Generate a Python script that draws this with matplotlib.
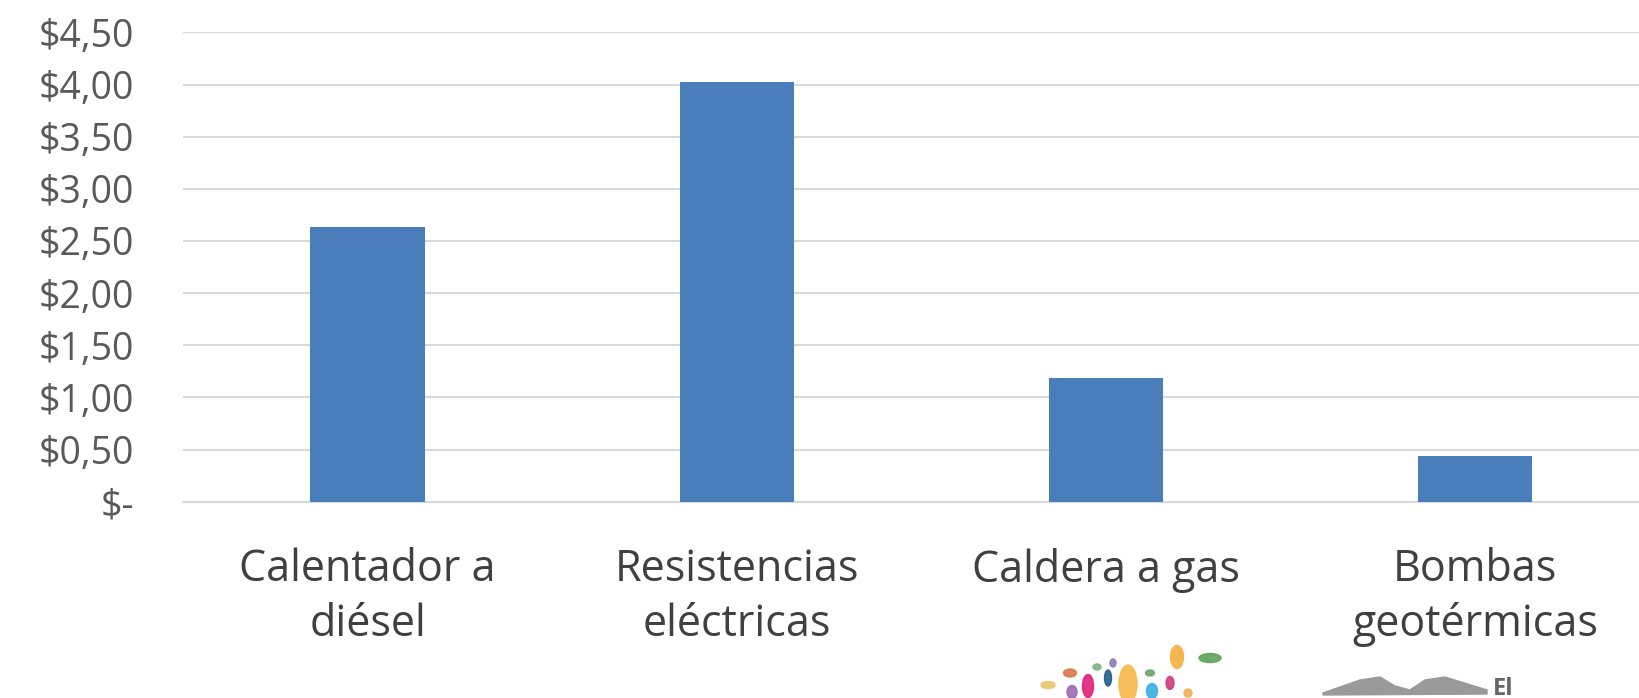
import matplotlib.pyplot as plt
from matplotlib.patches import Ellipse, Polygon
import numpy as np

# data
categories = ["Calentador a\ndiésel", "Resistencias\neléctricas", "Caldera a gas", "Bombas\ngeotérmicas"]
values = [2.63, 4.02, 1.19, 0.44]
yticks = [0, 0.5, 1.0, 1.5, 2.0, 2.5, 3.0, 3.5, 4.0, 4.5]
ytick_labels = ["$-", "$0,50", "$1,00", "$1,50", "$2,00", "$2,50", "$3,00", "$3,50", "$4,00", "$4,50"]

W, H = 1639, 698
plt.rcParams['font.family'] = ['Open Sans', 'DejaVu Sans']

fig = plt.figure(figsize=(W / 100, H / 100), dpi=100)
ax = fig.add_axes([0.1117, 0.2812, 0.9008, 0.6724])

x = np.arange(len(categories))
ax.bar(x, values, width=0.31, color='#4A7EBB', zorder=3)

ax.set_xlim(-0.5, len(categories) - 0.5)
ax.set_ylim(0, 4.5)
ax.set_yticks(yticks)
ax.set_yticklabels(ytick_labels, fontsize=27, color='#595959')
ax.set_xticks(x)
ax.set_xticklabels(categories, fontsize=31, color='#404040', linespacing=1.3)

ax.grid(axis='y', color='#D9D9D9', linewidth=1.5, zorder=0)
for s in ['top', 'right', 'left']:
    ax.spines[s].set_visible(False)
ax.spines['bottom'].set_color('#D9D9D9')
ax.spines['bottom'].set_linewidth(1.5)
ax.tick_params(axis='both', length=0)
ax.tick_params(axis='y', pad=35)
ax.tick_params(axis='x', pad=33)

# cut-off logos at the bottom edge (pixel coords from top-left)
def fx(px):
    return px / W

def fy(py):
    return 1 - py / H

logo_dots = [  # x, y, w, h, colour
    (1048, 685, 14, 7, '#E8C66A'),
    (1070, 673, 13, 8, '#D9774A'),
    (1072, 692, 10, 13, '#9B6BB5'),
    (1088, 686, 11, 23, '#E0207A'),
    (1097, 667, 8, 6, '#7BB37A'),
    (1113, 663, 6, 8, '#8C7AB5'),
    (1108, 678, 7, 16, '#1F5E8C'),
    (1128, 684, 18, 38, '#F7B84A'),
    (1150, 673, 9, 6, '#6BA36B'),
    (1152, 691, 11, 15, '#3AB0E0'),
    (1170, 683, 8, 13, '#D03A7A'),
    (1188, 693, 8, 8, '#F0B050'),
    (1177, 657, 13, 23, '#F5B040'),
    (1210, 658, 22, 9, '#5BA35B'),
]
for cx, cy, w, h, c in logo_dots:
    fig.patches.append(Ellipse((fx(cx), fy(cy)), w / W, h / H, color=c,
                               transform=fig.transFigure, alpha=0.9))

building = [(1323, 693), (1360, 680), (1380, 677), (1395, 686), (1410, 690),
            (1425, 680), (1445, 677), (1487, 690), (1487, 694), (1323, 695)]
fig.patches.append(Polygon([(fx(a), fy(b)) for a, b in building], closed=True,
                           color='#9A9A9A', transform=fig.transFigure))
fig.text(fx(1493), fy(695), "El", fontsize=17, fontweight='bold', color='#666666',
         ha='left', va='baseline')

fig.savefig('out.png', dpi=100)
